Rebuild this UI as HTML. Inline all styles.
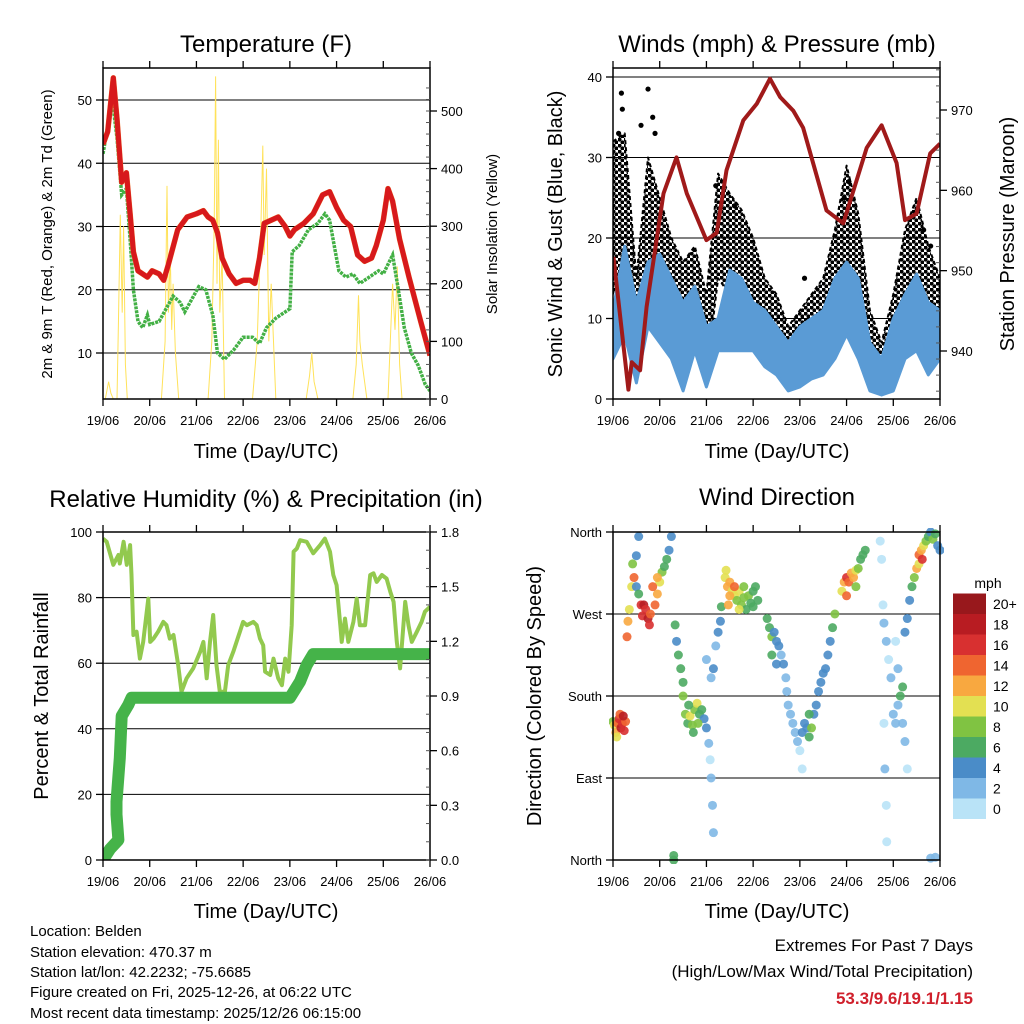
<!DOCTYPE html>
<html><head><meta charset="utf-8">
<style>
html,body{margin:0;padding:0;background:#fff;}
svg{display:block;font-family:"Liberation Sans",Arial,sans-serif;}
</style></head>
<body>
<svg id="c" width="1024" height="1024" viewBox="0 0 1024 1024" xmlns="http://www.w3.org/2000/svg">
<defs>
<pattern id="dots" width="6" height="6" patternUnits="userSpaceOnUse">
<circle cx="1.5" cy="1.5" r="2.1" fill="#000"/>
<circle cx="4.5" cy="4.5" r="2.1" fill="#000"/>
</pattern>
</defs>
<rect width="1024" height="1024" fill="#fff"/>
<text x="266" y="52" font-size="24" text-anchor="middle">Temperature (F)</text>
<text x="777" y="52" font-size="24" text-anchor="middle">Winds (mph) &amp; Pressure (mb)</text>
<text x="266" y="507" font-size="24" text-anchor="middle">Relative Humidity (%) &amp; Precipitation (in)</text>
<text x="777" y="505" font-size="24" text-anchor="middle">Wind Direction</text>
<text x="266" y="458" font-size="20" text-anchor="middle">Time (Day/UTC)</text>
<text x="777" y="458" font-size="20" text-anchor="middle">Time (Day/UTC)</text>
<text x="266" y="918" font-size="20" text-anchor="middle">Time (Day/UTC)</text>
<text x="777" y="918" font-size="20" text-anchor="middle">Time (Day/UTC)</text>
<text transform="translate(52,234) rotate(-90)" font-size="15" text-anchor="middle">2m &amp; 9m T (Red, Orange) &amp; 2m Td (Green)</text>
<text transform="translate(497,234) rotate(-90)" font-size="15" text-anchor="middle">Solar Insolation (Yellow)</text>
<text transform="translate(562,234) rotate(-90)" font-size="20" text-anchor="middle">Sonic Wind &amp; Gust (Blue, Black)</text>
<text transform="translate(1014,234) rotate(-90)" font-size="20" text-anchor="middle">Station Pressure (Maroon)</text>
<text transform="translate(48,696) rotate(-90)" font-size="20" text-anchor="middle">Percent &amp; Total Rainfall</text>
<text transform="translate(541,696) rotate(-90)" font-size="20" text-anchor="middle">Direction (Colored By Speed)</text>
<g font-size="15">
<text x="30" y="936">Location: Belden</text>
<text x="30" y="957">Station elevation: 470.37 m</text>
<text x="30" y="977">Station lat/lon: 42.2232; -75.6685</text>
<text x="30" y="997">Figure created on Fri, 2025-12-26, at 06:22 UTC</text>
<text x="30" y="1018">Most recent data timestamp: 2025/12/26 06:15:00</text>
</g>
<g font-size="17" text-anchor="end">
<text x="973" y="951">Extremes For Past 7 Days</text>
<text x="973" y="977">(High/Low/Max Wind/Total Precipitation)</text>
<text x="973" y="1004" font-weight="bold" fill="#d0202c">53.3/9.6/19.1/1.15</text>
</g>
<g id="plots"></g>
</svg>
<script>
const dayLabels=["19/06","20/06","21/06","22/06","23/06","24/06","25/06","26/06"];
const tDays=[0,0.1,0.22,0.3,0.4,0.5,0.58,0.65,0.75,0.95,1.05,1.2,1.3,1.4,1.6,1.8,2.0,2.15,2.25,2.35,2.45,2.55,2.7,2.85,3.0,3.15,3.25,3.35,3.45,3.6,3.75,3.9,4.0,4.1,4.3,4.5,4.7,4.85,5.0,5.15,5.3,5.45,5.6,5.75,5.85,6.0,6.1,6.2,6.35,6.55,6.8,7.0];
const tempVals=[43,45,53.5,47,37,38.5,32,26,23,22,23,22.5,21.5,24,29.5,31.5,32,32.5,31.5,31,29,25,22.5,21,21.5,21.5,21,25,30.5,31,31.5,30,28.5,29.5,30.5,32,35,35.5,33,31,30,25.5,24.5,25,27,31,36,34,28,22,15,9.6];
const tdDays=[0,0.2,0.3,0.4,0.5,0.58,0.65,0.75,0.85,0.95,1.0,1.2,1.35,1.5,1.65,1.75,1.9,2.05,2.2,2.35,2.45,2.6,2.8,3.0,3.2,3.35,3.5,3.7,3.9,4.0,4.05,4.2,4.4,4.6,4.75,4.85,4.95,5.05,5.2,5.35,5.5,5.7,5.9,6.0,6.1,6.2,6.3,6.45,6.6,6.75,6.9,7.0];
const tdVals=[41.5,50,44,35,36,28,20,15,14,16,14.5,15,17,19,18,16.5,18.5,20.5,20,16,10,9,10.5,12.5,12.5,11.5,14,15.5,16.5,17,26,27,29.5,30.5,32,31,27,23,22,22.5,21,22,23,22.5,24,25.5,21,14,10,8,5,4];
const solarDays=[0,0.05,0.12,0.17,0.22,0.3,0.33,0.37,0.41,0.44,0.48,0.52,1.25,1.33,1.37,1.4,1.44,1.47,1.5,1.55,1.62,2.25,2.33,2.38,2.41,2.44,2.47,2.5,2.55,2.6,3.2,3.3,3.38,3.42,3.45,3.5,3.55,3.6,3.7,4.35,4.42,4.47,4.52,4.6,5.35,5.42,5.47,5.5,5.55,5.65,6.1,6.15,6.2,6.25,6.3,6.35,6.4,7];
const solarVals=[0,0,30,10,0,0,130,320,150,300,60,0,0,100,370,150,250,120,200,80,0,0,100,300,560,200,450,150,250,0,0,100,300,440,250,400,100,200,0,0,40,80,30,0,0,60,180,100,60,0,0,100,200,120,230,60,0,0];
const windDays=[0,0.25,0.5,0.75,1,1.25,1.5,1.75,2,2.25,2.5,2.75,3,3.25,3.5,3.75,4,4.25,4.5,4.75,5,5.25,5.5,5.75,6,6.25,6.5,6.75,7];
const windLo=[5,8,2,9,7,5,1,6,1.5,6,6,6,6,4,3,1,1.5,2.5,3,5,8,5,1,0.5,1,5,6,3,5];
const windHi=[11,19,12,17,18,15,12,14,9,10,16,15,12,11,9,7,9,10,11,15,17,15,7,5,10,13,15.5,12,11];
const gustLo=[13,14,5,15,13,9,7,10,3,15,13,13,9,5,3,1.5,1.5,5,5,9,11,9,3,1,5,9,13,8,5];
const gustHi=[32,33,15,30,25,20,17,19,13,28,25.5,23.5,20,15,13,9,11,13,15,21,29,23,11,7,13,21,25,19,15];
const gustOutDays=[0.18,0.2,0.12,0.75,0.6,0.85,0.9,2.2,2.6,4.1,4.95,5.05,6.65,6.8];
const gustOutVals=[38,36,33,38.5,34,35,33,26.5,24,15,25,27,21,19];
const presDays=[0.01,0.33,0.4,0.58,0.72,1.08,1.36,1.58,2.0,2.22,2.43,2.79,3.08,3.36,3.58,3.86,4.07,4.57,4.93,5.43,5.75,6.07,6.25,6.5,6.79,7.0];
const presVals=[951.7,935.2,938.6,937.6,945.5,959.6,964.1,959.6,953.8,954.7,962.5,968.7,970.8,973.9,971.6,969.9,967.8,957.5,955.9,965.3,968.1,963.4,956.3,957.1,964.6,965.8];
const rhDays=[0,0.08,0.22,0.33,0.36,0.44,0.51,0.58,0.61,0.65,0.72,0.79,0.86,0.97,1.01,1.08,1.18,1.29,1.36,1.43,1.51,1.61,1.68,1.79,1.93,2.08,2.15,2.22,2.29,2.36,2.43,2.5,2.61,2.68,2.79,2.93,3.0,3.08,3.22,3.29,3.36,3.43,3.47,3.58,3.65,3.75,3.83,3.9,3.97,4.04,4.08,4.15,4.22,4.36,4.5,4.65,4.75,4.86,4.93,5.0,5.08,5.11,5.18,5.25,5.36,5.43,5.5,5.61,5.72,5.79,5.86,5.97,6.07,6.15,6.22,6.29,6.36,6.47,6.54,6.61,6.72,6.82,6.89,7.0];
const rhVals=[98,97,90,93,90.4,97,90,96,86.9,68.6,69.6,61.4,66.5,79.7,66.5,67.5,69.6,72.6,71.6,67.5,68.6,59.4,51.3,55.4,58.4,63.5,66.5,55.4,66.5,74.7,59.4,51.3,51.3,59.4,63.5,69.6,72.6,71.6,72.6,71.6,67.5,65.5,57.4,56.4,61.4,55.4,53.3,61.4,57.4,71.6,94,95,97.5,97,93.5,96,98,94,86.9,83.8,71.6,66.5,73.6,66.5,72.6,79.7,71.6,71.6,86.9,87.4,84.8,86.9,85.8,81.8,78.7,66.5,58.4,78.7,71.6,66.5,69.6,72.6,75.7,77.2];
const precipDays=[0,0.15,0.33,0.29,0.29,0.36,0.4,0.54,0.61,4.0,4.22,4.36,4.5,7.0];
const precipVals=[0,0.06,0.11,0.25,0.32,0.56,0.79,0.85,0.89,0.89,0.98,1.07,1.13,1.13];
const wdDays=[0,0.03,0.06,0.1,0.13,0.17,0.2,0.24,0.27,0.08,0.15,0.22,
0.3,0.32,0.35,0.4,0.45,0.42,0.5,0.55,0.6,0.63,0.66,0.7,0.75,0.8,0.78,0.9,0.95,1.0,1.05,1.1,1.15,1.2,1.25,0.55,0.5,0.85,0.95,
1.33,1.36,1.4,1.45,1.5,
1.5,1.55,1.6,1.65,1.7,1.75,1.8,1.85,1.9,1.95,2.0,1.62,1.72,1.82,
2.05,2.08,2.1,2.13,2.15,2.0,2.1,2.15,2.2,2.25,2.3,2.32,
2.4,2.45,2.5,2.55,2.6,2.65,2.7,2.75,2.8,2.85,2.9,2.95,3.0,3.05,3.1,2.42,2.5,2.6,2.7,2.8,3.0,2.47,
3.3,3.35,3.4,3.45,3.5,3.55,3.6,3.65,3.7,3.72,3.75,3.8,3.85,3.9,3.95,4.0,4.05,3.5,3.4,
4.05,4.1,4.15,4.2,4.25,4.3,4.35,4.4,4.45,4.5,4.55,4.2,
4.6,4.65,4.7,4.75,
4.9,4.95,5.0,5.05,5.1,5.15,5.2,5.25,5.3,5.35,5.4,5.0,5.2,
5.72,5.75,5.78,5.8,5.85,5.9,5.95,5.8,5.82,5.85,5.86,6.0,6.05,6.1,6.15,6.2,6.25,6.3,6.05,6.1,6.2,
6.25,6.3,6.35,6.4,6.45,
6.5,6.55,6.6,6.65,6.7,6.75,6.8,6.85,6.9,6.95,7.0,6.55,6.62,
1.3,1.3,6.8,6.9];
const wdDir=[152,148,140,150,155,145,150,142,152,135,160,158,
245,262,275,300,310,325,300,292,280,268,280,275,265,270,258,280,292,305,316,322,330,340,355,355,334,300,310,
258,240,225,210,195,
180,160,150,158,148,165,172,160,165,155,145,170,140,150,
128,110,90,60,30,220,200,210,235,250,262,278,
310,300,305,295,290,285,295,280,288,275,290,282,295,300,285,318,290,300,275,300,278,280,
265,255,245,250,240,235,225,215,200,185,170,160,150,140,130,120,100,215,225,
140,150,145,135,145,160,170,185,195,205,210,160,
225,240,255,270,
295,305,310,305,315,310,318,320,330,335,340,290,300,
350,330,280,260,240,220,200,150,100,60,20,160,150,170,180,150,130,100,240,210,190,
250,265,285,300,310,
320,335,340,345,350,355,360,352,358,345,340,325,330,
5,0,2,3];
const wdSpeed=[8,10,12,14,16,18,17,16,15,10,14,18,
14,12,10,10,14,8,4,6,16,17,18,17,18,14,16,14,12,10,8,6,6,4,4,4,4,15,13,
6,5,6,7,6,
8,9,7,10,9,8,10,7,6,5,4,6,7,8,
2,1,3,2,3,3,2,4,3,4,5,6,
11,12,13,10,11,9,10,9,8,7,8,7,7,6,6,10,12,14,10,9,6,12,
7,6,8,5,4,4,3,4,2,3,2,2,2,3,2,1,1,5,7,
4,4,5,6,8,4,4,4,4,4,4,7,
4,5,6,8,
10,12,16,14,12,13,10,8,6,6,6,14,8,
1,1,0,2,2,1,2,1,2,1,1,2,2,3,6,2,2,1,1,3,7,
4,5,5,6,8,
12,14,12,10,8,6,5,8,7,4,4,10,16,
6,6,3,3];

const NS="http://www.w3.org/2000/svg";
const root=document.getElementById('plots');
function mk(tag,attrs,parent){const e=document.createElementNS(NS,tag);for(const k in attrs)e.setAttribute(k,attrs[k]);(parent||root).appendChild(e);return e;}
function lin(d0,d1,r0,r1){return v=>r0+(v-d0)*(r1-r0)/(d1-d0);}
function pathOf(xs,ys,fx,fy){return xs.map((x,i)=>(i?'L':'M')+fx(x).toFixed(1)+','+fy(ys[i]).toFixed(1)).join('');}
function frame(x0,y0,x1,y1,g){mk('rect',{x:x0,y:y0,width:x1-x0,height:y1-y0,fill:'none',stroke:'#000','stroke-width':1.5},g);}
function xAxis(x0,x1,y0,y1,g){
  const fx=lin(0,7,x0,x1);
  dayLabels.forEach((l,i)=>{
    const x=fx(i);
    mk('line',{x1:x,x2:x,y1:y1,y2:y1+7,stroke:'#000','stroke-width':1.3},g);
    mk('line',{x1:x,x2:x,y1:y0,y2:y0-7,stroke:'#000','stroke-width':1.3},g);
    const t=mk('text',{x:x,y:y1+26,'font-size':13,'text-anchor':'middle'},g);t.textContent=l;
    
    
  });
  return fx;
}
function hgrid(vals,fy,x0,x1,g){vals.forEach(v=>{mk('line',{x1:x0,x2:x1,y1:fy(v),y2:fy(v),stroke:'#000','stroke-width':1},g);});}
function yTicks(vals,labels,fy,x,side,g){
  vals.forEach((v,i)=>{
    const y=fy(v);
    mk('line',{x1:x,x2:x+(side<0?-7:7),y1:y,y2:y,stroke:'#000','stroke-width':1.3},g);
    const t=mk('text',{x:x+(side<0?-11:11),y:y+5,'font-size':13,'text-anchor':side<0?'end':'start'},g);
    t.textContent=labels[i];
    
    
  });
}
function minorTicks(from,to,step,fy,x,g){for(let v=from;v<=to+1e-9;v+=step){const y=fy(v);mk('line',{x1:x,x2:x-4,y1:y,y2:y,stroke:'#555','stroke-width':1},g);}}

(function(){
  const g=mk('g',{});
  
  
  const X0=103,X1=430,Y0=68,Y1=399;
  const fy=lin(10,50,353,100), fs=lin(0,500,399,111);
  const fx=lin(0,7,X0,X1);
  const clip=mk('clipPath',{id:'cl1'},g);mk('rect',{x:X0,y:Y0,width:X1-X0,height:Y1-Y0},clip);
  hgrid([10,20,30,40,50],fy,X0,X1,g);
  const pg=mk('g',{'clip-path':'url(#cl1)'},g);
  const s=mk('path',{d:pathOf(solarDays,solarVals,fx,fs),fill:'none',stroke:'#ffe25a','stroke-width':1},pg);
  
  
  const td=mk('path',{d:pathOf(tdDays,tdVals,fx,fy),fill:'none',stroke:'#43b045','stroke-width':3.5,'stroke-dasharray':'3 1'},pg);
  
  
  const t9=mk('path',{d:pathOf(tDays,tempVals,fx,fy),fill:'none',stroke:'#f07a2a','stroke-width':5.5,'stroke-linejoin':'round'},pg);
  
  
  const t2=mk('path',{d:pathOf(tDays,tempVals,fx,fy),fill:'none',stroke:'#d7191c','stroke-width':5,'stroke-linejoin':'round'},pg);
  
  
  frame(X0,Y0,X1,Y1,g);
  xAxis(X0,X1,Y0,Y1,g);
  yTicks([10,20,30,40,50],['10','20','30','40','50'],fy,X0,-1,g);
  minorTicks(0,550,20,fs,X1,g);
  yTicks([0,100,200,300,400,500],['0','100','200','300','400','500'],fs,X1,1,g);
})();

(function(){
  const g=mk('g',{});
  
  
  const X0=613,X1=940,Y0=68,Y1=399;
  const fy=lin(0,40,399,77), fp=lin(940,970,351,110);
  const fx=lin(0,7,X0,X1);
  const clip=mk('clipPath',{id:'cl2'},g);mk('rect',{x:X0,y:Y0,width:X1-X0,height:Y1-Y0},clip);
  hgrid([10,20,30,40],fy,X0,X1,g);
  const pg=mk('g',{'clip-path':'url(#cl2)'},g);
  const band=(lo,hi)=>pathOf(windDays,hi,fx,fy)+pathOf(windDays.slice().reverse(),lo.slice().reverse(),fx,fy).replace('M','L')+'Z';
  const gb=mk('path',{d:band(gustLo,gustHi),fill:'url(#dots)',stroke:'#000','stroke-width':2,'stroke-dasharray':'4 3','stroke-linejoin':'round'},pg);
  
  
  gustOutDays.forEach((d,i)=>{const c=mk('circle',{cx:fx(d),cy:fy(gustOutVals[i]),r:2.6,fill:'#000'},pg);
    
    });
  const wb=mk('path',{d:band(windLo,windHi),fill:'#5a9bd5',stroke:'#5a9bd5','stroke-width':3,'stroke-linejoin':'round'},pg);
  
  
  const p=mk('path',{d:pathOf(presDays,presVals,fx,fp),fill:'none',stroke:'#a01a1a','stroke-width':4,'stroke-linejoin':'round'},pg);
  
  
  frame(X0,Y0,X1,Y1,g);
  xAxis(X0,X1,Y0,Y1,g);
  yTicks([0,10,20,30,40],['0','10','20','30','40'],fy,X0,-1,g);
  minorTicks(935,975,2,fp,X1,g);
  yTicks([940,950,960,970],['940','950','960','970'],fp,X1,1,g);
})();

(function(){
  const g=mk('g',{});
  
  
  const X0=103,X1=430,Y0=532,Y1=860;
  const fy=lin(0,100,860,532), fp=lin(0,1.8,860,532);
  const fx=lin(0,7,X0,X1);
  const clip=mk('clipPath',{id:'cl3'},g);mk('rect',{x:X0,y:Y0,width:X1-X0,height:Y1-Y0},clip);
  hgrid([20,40,60,80],fy,X0,X1,g);
  const pg=mk('g',{'clip-path':'url(#cl3)'},g);
  const rh=mk('path',{d:pathOf(rhDays,rhVals,fx,fy),fill:'none',stroke:'#92c94e','stroke-width':4,'stroke-linejoin':'round'},pg);
  
  
  const pr=mk('path',{d:pathOf(precipDays,precipVals,fx,fp),fill:'none',stroke:'#45b349','stroke-width':12,'stroke-linejoin':'round','stroke-linecap':'round'},pg);
  
  
  frame(X0,Y0,X1,Y1,g);
  xAxis(X0,X1,Y0,Y1,g);
  yTicks([0,20,40,60,80,100],['0','20','40','60','80','100'],fy,X0,-1,g);
  minorTicks(0,1.8,0.1,fp,X1,g);
  yTicks([0,0.3,0.6,0.9,1.2,1.5,1.8],['0.0','0.3','0.6','0.9','1.2','1.5','1.8'],fp,X1,1,g);
})();

const binColors=['#b9e3f7','#7fb8e6','#4a8cc8','#4caa62','#80c342','#e3e052','#f8a840','#ef6530','#d83030','#b81c22','#98181c'];
const binLabels=['0','2','4','6','8','10','12','14','16','18','20+'];
(function(){
  const g=mk('g',{});
  
  
  const X0=613,X1=940,Y0=532,Y1=860;
  const fy=lin(0,360,860,532);
  const fx=lin(0,7,X0,X1);
  const clip=mk('clipPath',{id:'cl4'},g);mk('rect',{x:X0-4,y:Y0-4,width:X1-X0+8,height:Y1-Y0+8},clip);
  hgrid([90,180,270],fy,X0,X1,g);
  const pg=mk('g',{'clip-path':'url(#cl4)'},g);
  wdDays.forEach((d,i)=>{
    const b=Math.min(10,Math.floor(wdSpeed[i]/2));
    const c=mk('circle',{cx:fx(d),cy:fy(wdDir[i]),r:4.5,fill:binColors[b],'fill-opacity':0.9},pg);
    
    
  });
  frame(X0,Y0,X1,Y1,g);
  xAxis(X0,X1,Y0,Y1,g);
  yTicks([0,90,180,270,360],['North','East','South','West','North'],fy,X0,-1,g);
  const cb=mk('g',{},g);
  
  
  const lt=mk('text',{x:988,y:588,'font-size':14,'text-anchor':'middle'},cb);lt.textContent='mph';
  const h=20.5;
  binColors.forEach((col,i)=>{
    const y=819-(i+1)*h;
    const r=mk('rect',{x:953,y:y,width:33,height:h,fill:col},cb);
    
    
    const t=mk('text',{x:993,y:y+h/2+5,'font-size':14},cb);t.textContent=binLabels[i];
    
    
  });
})();
</script>
</body></html>
